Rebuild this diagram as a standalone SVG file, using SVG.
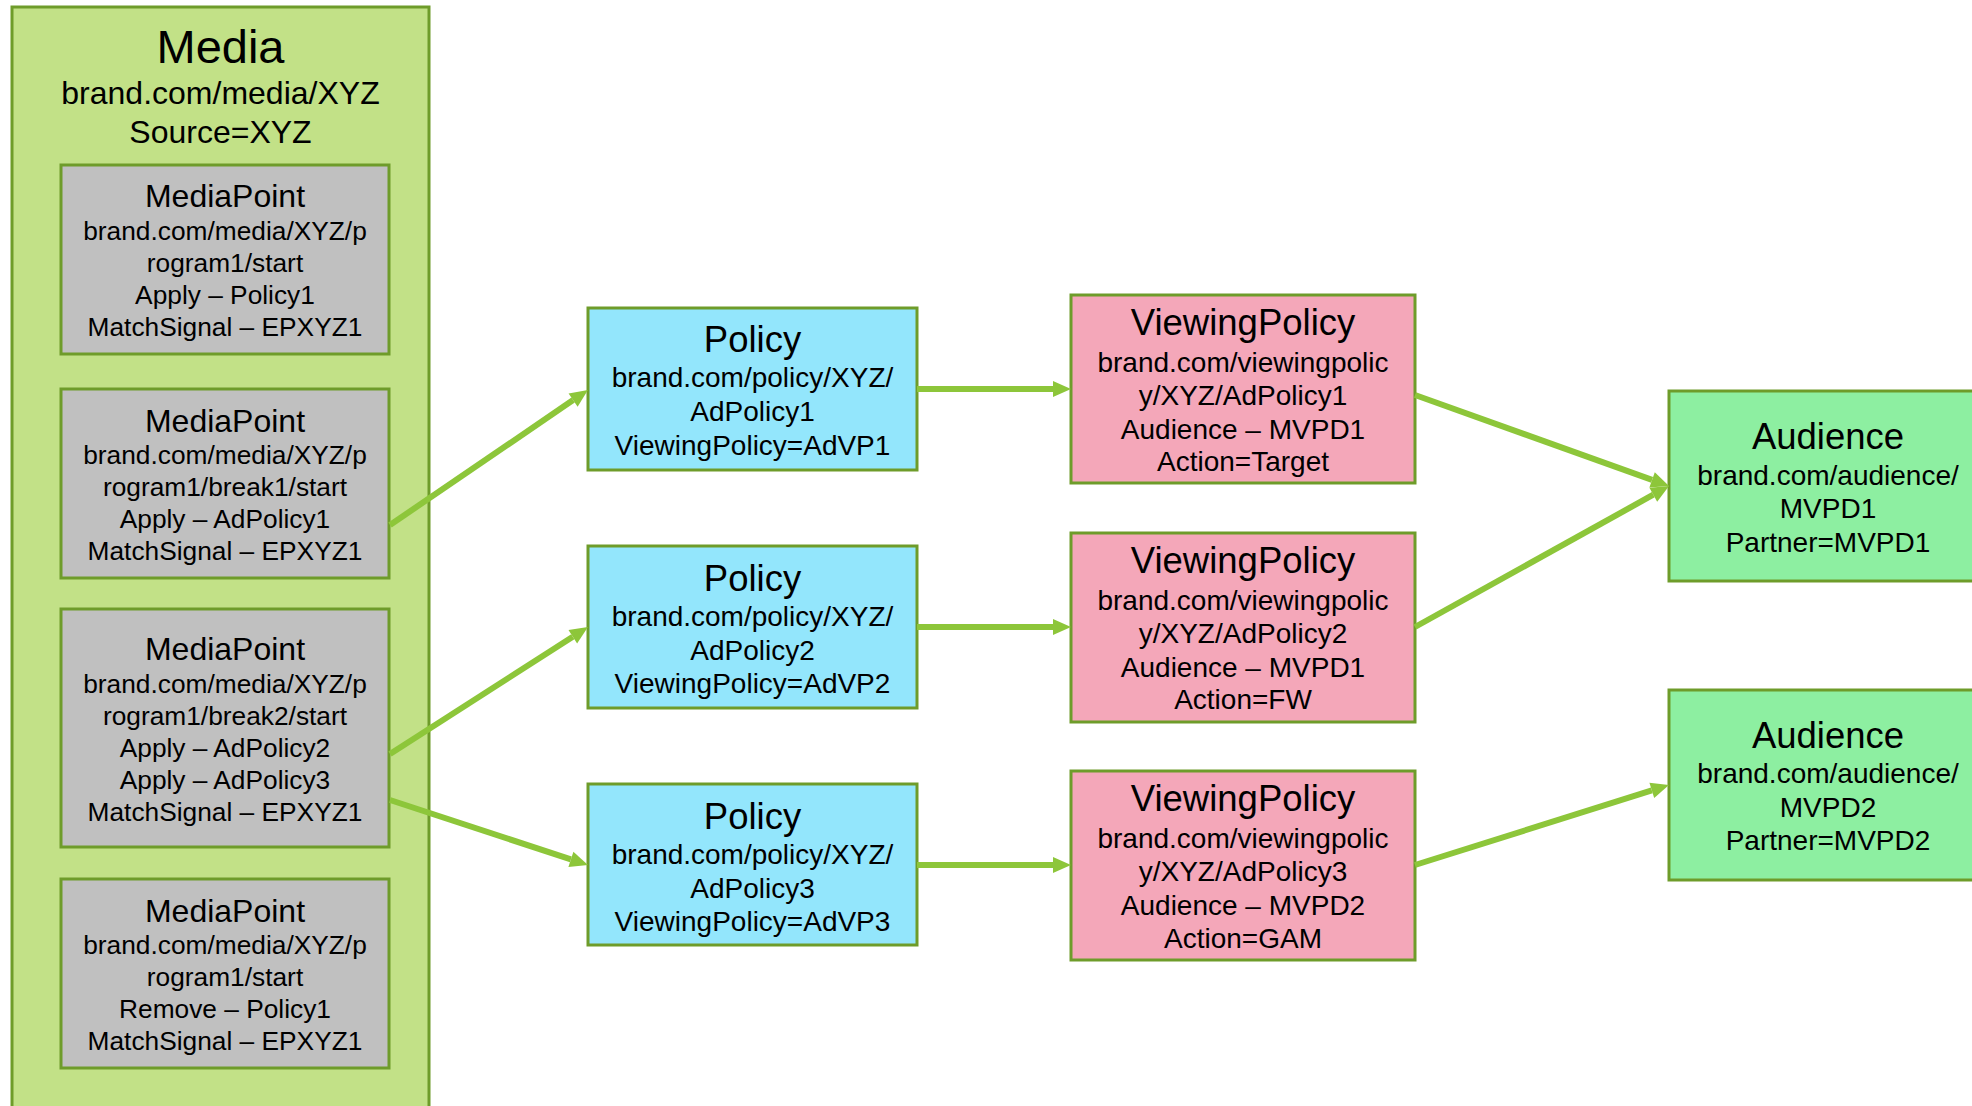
<svg xmlns="http://www.w3.org/2000/svg" width="1972" height="1106" viewBox="0 0 1972 1106">
  <style>
    text { font-family: "Liberation Sans", Arial, sans-serif; fill: #000; text-anchor: middle; }
    .box { stroke: #6E9C2A; stroke-width: 3; }
    .media { fill: #C2E187; }
    .point { fill: #C0C0C0; }
    .policy { fill: #93E6FC; }
    .vp { fill: #F4A7B9; }
    .aud { fill: #8DEFA1; }
    .t-media { font-size: 47px; }
    .b-media { font-size: 32px; }
    .t-point { font-size: 32px; }
    .b-point { font-size: 26.3px; }
    .t-node { font-size: 36.5px; }
    .b-node { font-size: 28px; }
    .link { stroke: #8DC63A; stroke-width: 6; fill: none; marker-end: url(#arrow); }
  </style>
  <defs>
    <marker id="arrow" markerUnits="userSpaceOnUse" markerWidth="20" markerHeight="18" refX="0" refY="9" orient="auto" overflow="visible">
      <path d="M0,1 L18,9 L0,17 z" fill="#8DC63A"/>
    </marker>
  </defs>

  <rect width="1972" height="1106" fill="#FFFFFF"/>

  <!-- Media container with its media points -->
  <g id="media">
    <rect class="box media" x="12" y="7" width="417" height="1112"/>
    <text class="t-media" x="220.5" y="63">Media</text>
    <text class="b-media" x="220.5" y="104">brand.com/media/XYZ</text>
    <text class="b-media" x="220.5" y="143">Source=XYZ</text>
  </g>

  <g id="mediapoint-1">
    <rect class="box point" x="61" y="165" width="328" height="189"/>
    <text class="t-point" x="225" y="207">MediaPoint</text>
    <text class="b-point" x="225" y="240">brand.com/media/XYZ/p</text>
    <text class="b-point" x="225" y="272">rogram1/start</text>
    <text class="b-point" x="225" y="304">Apply – Policy1</text>
    <text class="b-point" x="225" y="336">MatchSignal – EPXYZ1</text>
  </g>

  <g id="mediapoint-2">
    <rect class="box point" x="61" y="389" width="328" height="189"/>
    <text class="t-point" x="225" y="432">MediaPoint</text>
    <text class="b-point" x="225" y="464">brand.com/media/XYZ/p</text>
    <text class="b-point" x="225" y="496">rogram1/break1/start</text>
    <text class="b-point" x="225" y="528">Apply – AdPolicy1</text>
    <text class="b-point" x="225" y="560">MatchSignal – EPXYZ1</text>
  </g>

  <g id="mediapoint-3">
    <rect class="box point" x="61" y="609" width="328" height="238"/>
    <text class="t-point" x="225" y="660">MediaPoint</text>
    <text class="b-point" x="225" y="693">brand.com/media/XYZ/p</text>
    <text class="b-point" x="225" y="725">rogram1/break2/start</text>
    <text class="b-point" x="225" y="757">Apply – AdPolicy2</text>
    <text class="b-point" x="225" y="789">Apply – AdPolicy3</text>
    <text class="b-point" x="225" y="821">MatchSignal – EPXYZ1</text>
  </g>

  <g id="mediapoint-4">
    <rect class="box point" x="61" y="879" width="328" height="189"/>
    <text class="t-point" x="225" y="922">MediaPoint</text>
    <text class="b-point" x="225" y="954">brand.com/media/XYZ/p</text>
    <text class="b-point" x="225" y="986">rogram1/start</text>
    <text class="b-point" x="225" y="1018">Remove – Policy1</text>
    <text class="b-point" x="225" y="1050">MatchSignal – EPXYZ1</text>
  </g>

  <!-- Policies -->
  <g id="policy-1">
    <rect class="box policy" x="588" y="308" width="329" height="162"/>
    <text class="t-node" x="752.5" y="352">Policy</text>
    <text class="b-node" x="752.5" y="387">brand.com/policy/XYZ/</text>
    <text class="b-node" x="752.5" y="421">AdPolicy1</text>
    <text class="b-node" x="752.5" y="455">ViewingPolicy=AdVP1</text>
  </g>

  <g id="policy-2">
    <rect class="box policy" x="588" y="546" width="329" height="162"/>
    <text class="t-node" x="752.5" y="591">Policy</text>
    <text class="b-node" x="752.5" y="626">brand.com/policy/XYZ/</text>
    <text class="b-node" x="752.5" y="660">AdPolicy2</text>
    <text class="b-node" x="752.5" y="693">ViewingPolicy=AdVP2</text>
  </g>

  <g id="policy-3">
    <rect class="box policy" x="588" y="784" width="329" height="161"/>
    <text class="t-node" x="752.5" y="829">Policy</text>
    <text class="b-node" x="752.5" y="864">brand.com/policy/XYZ/</text>
    <text class="b-node" x="752.5" y="898">AdPolicy3</text>
    <text class="b-node" x="752.5" y="931">ViewingPolicy=AdVP3</text>
  </g>

  <!-- Viewing policies -->
  <g id="viewingpolicy-1">
    <rect class="box vp" x="1071" y="295" width="344" height="188"/>
    <text class="t-node" x="1243" y="335">ViewingPolicy</text>
    <text class="b-node" x="1243" y="372">brand.com/viewingpolic</text>
    <text class="b-node" x="1243" y="405">y/XYZ/AdPolicy1</text>
    <text class="b-node" x="1243" y="439">Audience – MVPD1</text>
    <text class="b-node" x="1243" y="471">Action=Target</text>
  </g>

  <g id="viewingpolicy-2">
    <rect class="box vp" x="1071" y="533" width="344" height="189"/>
    <text class="t-node" x="1243" y="573">ViewingPolicy</text>
    <text class="b-node" x="1243" y="610">brand.com/viewingpolic</text>
    <text class="b-node" x="1243" y="643">y/XYZ/AdPolicy2</text>
    <text class="b-node" x="1243" y="677">Audience – MVPD1</text>
    <text class="b-node" x="1243" y="709">Action=FW</text>
  </g>

  <g id="viewingpolicy-3">
    <rect class="box vp" x="1071" y="771" width="344" height="189"/>
    <text class="t-node" x="1243" y="811">ViewingPolicy</text>
    <text class="b-node" x="1243" y="848">brand.com/viewingpolic</text>
    <text class="b-node" x="1243" y="881">y/XYZ/AdPolicy3</text>
    <text class="b-node" x="1243" y="915">Audience – MVPD2</text>
    <text class="b-node" x="1243" y="948">Action=GAM</text>
  </g>

  <!-- Audiences (run off the right edge) -->
  <g id="audience-1">
    <rect class="box aud" x="1669" y="391" width="330" height="190"/>
    <text class="t-node" x="1828" y="449">Audience</text>
    <text class="b-node" x="1828" y="485">brand.com/audience/</text>
    <text class="b-node" x="1828" y="518">MVPD1</text>
    <text class="b-node" x="1828" y="552">Partner=MVPD1</text>
  </g>

  <g id="audience-2">
    <rect class="box aud" x="1669" y="690" width="330" height="190"/>
    <text class="t-node" x="1828" y="748">Audience</text>
    <text class="b-node" x="1828" y="783">brand.com/audience/</text>
    <text class="b-node" x="1828" y="817">MVPD2</text>
    <text class="b-node" x="1828" y="850">Partner=MVPD2</text>
  </g>

  <!-- Connectors: lines stop at the arrow base, the marker supplies the tip -->
  <g id="connectors">
    <line class="link" x1="390" y1="525" x2="573.1" y2="400.1"/>
    <line class="link" x1="390" y1="754" x2="572.8" y2="636.7"/>
    <line class="link" x1="390" y1="800" x2="570.9" y2="859.4"/>
    <line class="link" x1="917" y1="389" x2="1053" y2="389"/>
    <line class="link" x1="917" y1="627" x2="1053" y2="627"/>
    <line class="link" x1="917" y1="865" x2="1053" y2="865"/>
    <line class="link" x1="1415" y1="395" x2="1652.1" y2="479.9"/>
    <line class="link" x1="1415" y1="627" x2="1653.3" y2="494.7"/>
    <line class="link" x1="1415" y1="865" x2="1651.8" y2="790.4"/>
  </g>
</svg>
